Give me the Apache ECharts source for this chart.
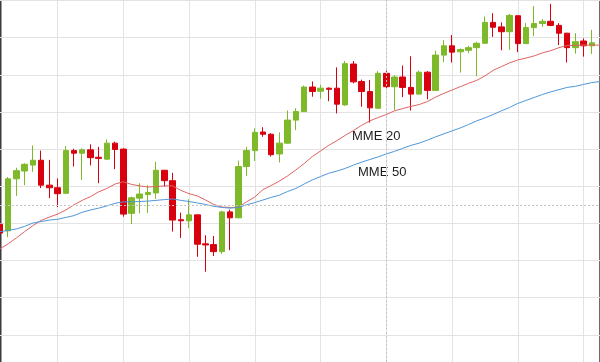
<!DOCTYPE html>
<html><head><meta charset="utf-8">
<script src="https://cdn.jsdelivr.net/npm/echarts@6/dist/echarts.min.js"></script>
<style>html,body{margin:0;padding:0;background:#fff}#c{width:600px;height:362px}</style>
</head><body><div id="c"></div>
<script>
// Sessions (no visible tick labels in the reference)
const sessions = Array.from({length: 74}, (_, i) => 'S' + (i + 1));

const opens = [39.8,38.0,52.0,54.1,55.7,57.0,50.3,49.6,48.1,59.6,58.9,59.8,57.8,57.3,61.6,60.0,42.7,46.8,47.8,48.2,54.3,51.5,41.0,40.7,42.3,34.5,34.3,32.4,43.1,41.5,55.3,59.6,64.6,64.0,58.7,61.6,67.8,70.1,76.7,75.6,76.4,76.4,71.9,82.9,78.2,75.5,71.0,80.4,76.8,79.4,76.6,74.8,80.7,75.8,85.3,87.8,86.2,86.6,87.3,88.5,94.1,92.9,91.6,95.9,88.4,92.7,93.8,94.4,93.3,91.2,87.3,89.1,87.8];
const closes = [37.4,52.0,54.2,55.9,57.0,50.3,49.6,48.0,59.6,58.9,59.8,57.7,57.5,61.6,59.9,42.5,46.9,47.9,48.3,54.3,51.5,40.9,40.7,42.3,34.4,34.2,32.4,43.1,41.5,55.3,59.6,64.5,64.0,58.5,61.6,67.8,70.1,76.7,75.5,76.4,76.1,72.1,83.0,78.1,75.5,71.1,80.4,76.8,79.4,76.6,74.8,80.7,75.8,85.3,87.8,86.1,86.8,87.3,88.5,94.1,92.8,91.6,96.0,88.4,92.7,93.8,94.4,93.3,91.2,87.3,88.9,87.8,88.6];
const lows = [37.1,36.3,47.4,50.3,53.9,49.5,46.8,44.4,48.0,55.3,51.7,55.6,50.8,57.1,54.6,41.8,39.8,42.7,42.8,46.6,49.9,37.8,36.1,38.7,31.0,27.0,31.2,31.8,32.8,41.4,52.8,56.8,63.3,58.0,56.4,61.5,65.1,70.0,74.1,73.6,72.9,69.6,71.7,77.7,71.4,67.1,70.9,76.4,70.5,74.0,70.4,74.7,73.4,75.7,83.4,83.3,80.6,85.8,79.6,88.4,90.2,86.6,86.7,86.1,88.3,90.4,92.9,93.1,88.0,83.3,85.7,84.9,85.6];
const highs = [40.1,52.5,55.0,56.2,61.0,59.6,57.1,52.1,60.8,60.1,60.2,61.3,60.6,62.6,62.0,60.2,47.2,50.8,50.3,56.6,54.4,53.6,42.9,46.5,42.4,36.8,36.6,43.4,43.7,56.9,60.6,65.6,65.9,64.3,64.5,70.4,71.0,77.1,78.2,77.3,76.6,82.0,83.7,83.7,78.7,78.6,81.0,81.1,79.9,82.5,85.0,81.1,81.0,86.5,89.3,90.7,87.1,87.8,88.9,95.7,96.6,94.1,96.4,96.0,93.9,98.5,95.0,99.1,93.9,91.3,91.2,89.8,92.1];

const mme20 = [33.2,34.5,36.1,37.8,39.4,40.8,41.7,42.5,43.6,45.0,46.2,47.2,48.5,49.4,50.6,51.2,50.5,50.1,49.8,49.9,50.1,50.1,48.9,48.0,47.4,46.3,45.1,44.4,44.3,44.3,45.8,47.1,49.1,50.2,51.4,52.8,54.4,56.1,58.0,59.5,61.0,62.3,63.7,65.0,66.4,67.6,68.5,69.3,70.3,70.9,71.5,72.0,72.8,74.0,75.0,75.9,76.8,77.7,78.5,79.7,81.2,82.2,83.2,84.0,84.5,85.1,85.9,86.5,87.3,87.9,87.9,88.0,88.0,88.0];
const mme50 = [37.8,38.1,38.5,39.2,40.1,40.5,40.9,41.1,41.6,42.1,43.0,43.6,44.1,44.7,45.4,45.8,45.8,45.9,46.0,46.2,46.4,46.6,46.2,45.9,45.5,45.1,44.6,44.3,44.1,44.3,45.0,45.6,46.3,47.0,47.6,48.6,49.4,50.6,51.7,52.6,53.5,54.1,54.8,55.7,56.5,57.2,57.9,58.7,59.4,60.2,61.0,61.6,62.4,63.3,64.1,64.9,65.7,66.6,67.6,68.4,69.3,70.3,71.2,72.3,73.1,73.9,74.7,75.4,76.0,76.6,76.9,77.4,77.9,78.2];

const crossPrice = 44.8;
const crossSession = 47.3;

const candles = opens.map((o, i) => [o, closes[i], lows[i], highs[i]]);
while (candles.length < sessions.length) candles.push('-');
const blank = sessions.map(() => '-');

const hidden = {axisLine: {show: false}, axisTick: {show: false}, axisLabel: {show: false}};
const chart = echarts.init(document.getElementById('c'), null, {renderer: 'canvas'});
chart.setOption({
  animation: false,
  backgroundColor: '#ffffff',
  grid: [
    {left: -0.6, top: 0.5, width: 603, height: 334.35, containLabel: false},
    {left: -0.6, top: 0, width: 603, height: 362, containLabel: false}
  ],
  xAxis: [
    Object.assign({type: 'category', data: sessions, boundaryGap: false, gridIndex: 0,
      splitLine: {show: false}}, hidden),
    Object.assign({type: 'category', data: sessions, boundaryGap: false, gridIndex: 1,
      splitLine: {show: true, interval: (i) => i % 8 === 7, lineStyle: {color: '#e3e3e3', width: 1}}}, hidden)
  ],
  yAxis: [
    Object.assign({type: 'value', min: 10, max: 100, interval: 10, gridIndex: 0,
      splitLine: {show: true, lineStyle: {color: '#e3e3e3', width: 1}}}, hidden),
    Object.assign({type: 'value', min: 0, max: 1, gridIndex: 1, splitLine: {show: false}}, hidden)
  ],
  series: [
    {
      name: 'repère', type: 'line', xAxisIndex: 1, yAxisIndex: 1, data: blank, showSymbol: false, z: 1,
      markLine: {
        silent: true, symbol: ['none', 'none'], label: {show: false},
        lineStyle: {color: '#c4c4c4', type: [2, 2], width: 1},
        data: [{xAxis: crossSession}]
      }
    },
    {
      name: 'Prix', type: 'candlestick', data: candles, barWidth: 6, z: 2,
      itemStyle: {color: '#7db928', color0: '#d8000f', borderColor: '#7db928', borderColor0: '#d8000f', borderWidth: 1},
      markLine: {
        silent: true, symbol: ['none', 'none'], label: {show: false},
        lineStyle: {color: '#c4c4c4', type: [2, 2], width: 1},
        data: [{yAxis: crossPrice}]
      }
    },
    {
      name: 'MME 20', type: 'line', data: mme20, showSymbol: false, smooth: false, z: 3,
      lineStyle: {color: '#e06262', width: 1}
    },
    {
      name: 'MME 50', type: 'line', data: mme50, showSymbol: false, smooth: false, z: 3,
      lineStyle: {color: '#4f97d8', width: 1}
    }
  ],
  graphic: [
    {type: 'text', left: 352, top: 130, style: {text: 'MME 20', font: '13px "Liberation Sans", Arial, sans-serif', fill: '#1e1e1e'}},
    {type: 'text', left: 358, top: 165.5, style: {text: 'MME 50', font: '13px "Liberation Sans", Arial, sans-serif', fill: '#1e1e1e'}},
    {type: 'rect', shape: {x: 0, y: 0, width: 1.5, height: 362}, style: {fill: '#3c3c3c'}},
    {type: 'rect', shape: {x: 599, y: 0, width: 1, height: 362}, style: {fill: '#6a6a6a'}}
  ]
});
</script></body></html>
